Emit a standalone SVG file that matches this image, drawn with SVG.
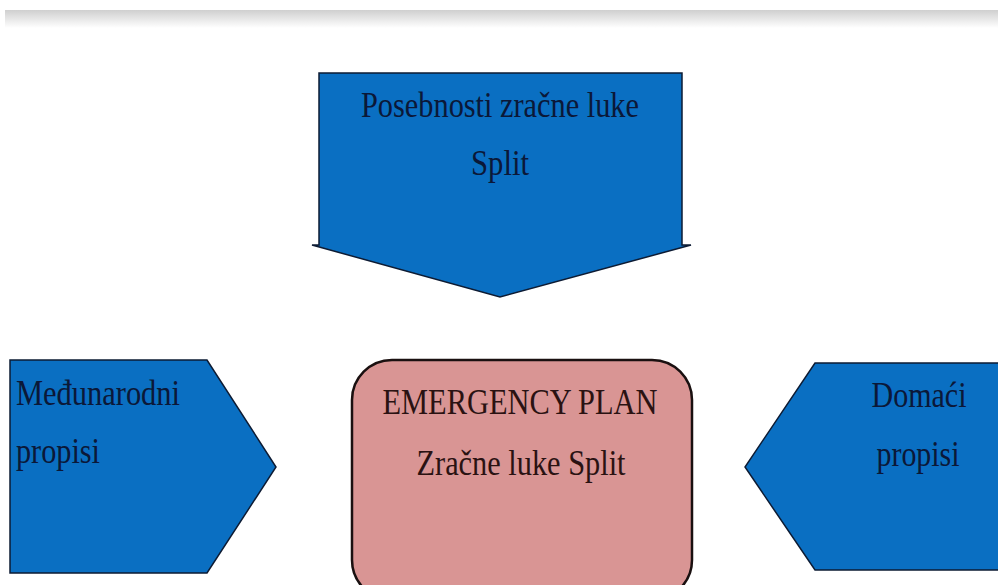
<svg xmlns="http://www.w3.org/2000/svg" width="998" height="585" viewBox="0 0 998 585">
<defs>
<linearGradient id="bar" x1="0" y1="0" x2="0" y2="1">
<stop offset="0" stop-color="#cfcfcf"/>
<stop offset="1" stop-color="#ffffff"/>
</linearGradient>
</defs>
<style>
.blue{fill:#0a6fc2;stroke:#0d1b33;stroke-width:1.5}
.pink{fill:#d99594;stroke:#1a1010;stroke-width:2.5}
.t{font-family:"Liberation Serif","Times New Roman",serif;font-size:35px}
.tb{fill:#0b1838}
.tp{fill:#2a1212}
</style>
<rect x="5" y="10" width="993" height="18" fill="url(#bar)"/>
<g id="top-arrow">
<polygon class="blue" points="319,73 682,73 682,245 691,245 500,297 312,245 319,245"/>
<text class="t tb" x="500" y="117" text-anchor="middle" textLength="278" lengthAdjust="spacingAndGlyphs">Posebnosti zračne luke</text>
<text class="t tb" x="500" y="175" text-anchor="middle" textLength="58" lengthAdjust="spacingAndGlyphs">Split</text>
</g>
<g id="left-arrow">
<polygon class="blue" points="10,360 207,360 276,467 207,573 10,573"/>
<text class="t tb" x="16" y="405" textLength="164" lengthAdjust="spacingAndGlyphs">Međunarodni</text>
<text class="t tb" x="16" y="463" textLength="84" lengthAdjust="spacingAndGlyphs">propisi</text>
</g>
<g id="center">
<rect class="pink" x="352" y="360" width="340" height="240" rx="40" ry="40"/>
<text class="t tp" x="520" y="414" text-anchor="middle" textLength="275" lengthAdjust="spacingAndGlyphs">EMERGENCY PLAN</text>
<text class="t tp" x="521" y="475" text-anchor="middle" textLength="209" lengthAdjust="spacingAndGlyphs">Zračne luke Split</text>
</g>
<g id="right-arrow">
<polygon class="blue" points="815,363 1005,363 1005,570 815,570 745,467"/>
<text class="t tb" x="919" y="407" text-anchor="middle" textLength="95" lengthAdjust="spacingAndGlyphs">Domaći</text>
<text class="t tb" x="918" y="466" text-anchor="middle" textLength="83" lengthAdjust="spacingAndGlyphs">propisi</text>
</g>
<g id="connectors"></g>
</svg>
